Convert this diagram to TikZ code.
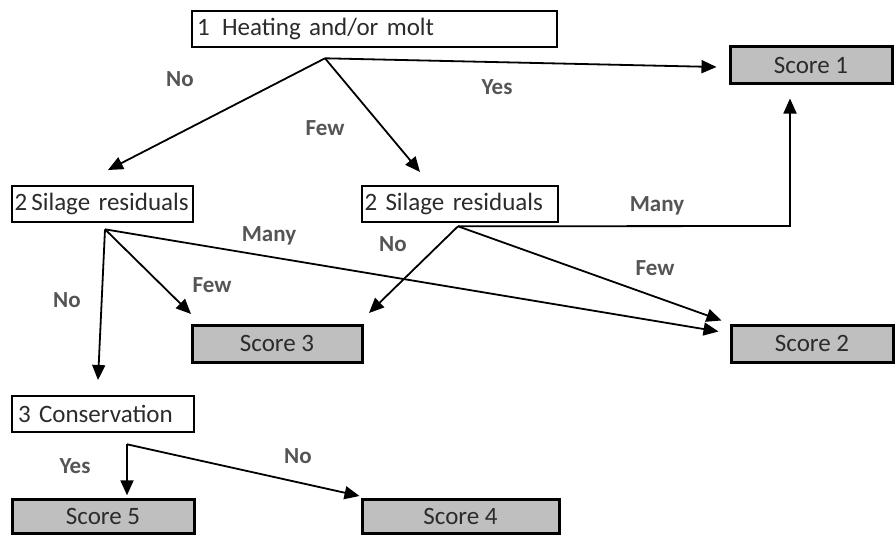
\documentclass[tikz,border=0pt]{standalone}
\usepackage{fontspec}
\setmainfont{Carlito}
\usetikzlibrary{arrows.meta,calc}
\definecolor{txt}{HTML}{2B2B2B}
\definecolor{lbl}{HTML}{555555}
\definecolor{scorefill}{HTML}{BFBFBF}
\begin{document}
\begin{tikzpicture}[x=1pt,y=-1pt,
  qbox/.style={draw=black,line width=2.6pt,fill=white,inner xsep=5pt,inner ysep=0pt,
    text=txt,font=\fontsize{25}{30}\selectfont,anchor=center},
  sbox/.style={draw=black,line width=3pt,fill=scorefill,inner sep=0pt,
    text=txt,font=\fontsize{25}{30}\selectfont,anchor=center},
  lab/.style={text=lbl,font=\bfseries\fontsize{23}{28}\selectfont,inner sep=0pt},
  conn/.style={line width=1.8pt,-{Triangle[length=15pt,width=13pt]}}]
\useasboundingbox (0,0) rectangle (896,535);
% question boxes
\node[qbox,minimum width=365pt,minimum height=36pt,text width=355pt,align=left] (h1) at (374.5,29) {1\, Heating and/or molt};
\node[qbox,minimum width=181pt,minimum height=36pt,text width=176pt,inner xsep=2.5pt,align=left] (r2a) at (102.5,204) {2\,Silage residuals};
\node[qbox,minimum width=196pt,minimum height=36pt,text width=191pt,inner xsep=2.5pt,align=left] (r2b) at (460,204) {2 Silage residuals};
\node[qbox,minimum width=182pt,minimum height=36pt,text width=170pt,inner xsep=6pt,align=left] (c3) at (103,414) {3 Conservation};
% score boxes
\node[sbox,minimum width=162pt,minimum height=36pt] (s1) at (811,65) {Score 1};
\node[sbox,minimum width=162pt,minimum height=37pt] (s2) at (812,343.5) {Score 2};
\node[sbox,minimum width=170pt,minimum height=37pt] (s3) at (277,343.5) {Score 3};
\node[sbox,minimum width=197pt,minimum height=34pt] (s4) at (460.5,516) {Score 4};
\node[sbox,minimum width=182pt,minimum height=34pt] (s5) at (103,516) {Score 5};
% branch points
\coordinate (b1) at ($(h1.south)+(-49.5,10)$);
\coordinate (b2a) at ($(r2a.south)+(2.5,6)$);
\coordinate (b2b) at ($(r2b.south)+(-2,3)$);
\coordinate (b3) at ($(c3.south)+(24,11)$);
% arrow tips
\coordinate (t1no) at (108,170);
\coordinate (t1few) at (420,172);
\coordinate (t1yes) at ($(s1.west)+(-12,2)$);
\coordinate (t2ano) at (98,380);
\coordinate (t2afew) at (191,314);
\coordinate (t2amany) at ($(s2.west)+(-11,-12)$);
\coordinate (t2bno) at (369,313);
\coordinate (t2bfew) at ($(s2.west)+(-8,-23)$);
\coordinate (t2bturn) at (790,226);
\coordinate (t2bmany) at ($(s1.south)+(-21,14)$);
\coordinate (t3yes) at ($(b3)+(0,51)$);
\coordinate (t3no) at ($(s4.west)+(-1,-20)$);
% connectors
\draw[conn] (b1) -- (t1no);
\draw[conn] (b1) -- (t1few);
\draw[conn] (b1) -- (t1yes);
\draw[conn] (b2a) -- (t2ano);
\draw[conn] (b2a) -- (t2afew);
\draw[conn] (b2a) -- (t2amany);
\draw[conn] (b2b) -- (t2bno);
\draw[conn] (b2b) -- (t2bfew);
\draw[conn] (b2b) -- (t2bturn) -- (t2bmany);
\draw[conn] (b3) -- (t3yes);
\draw[conn] (b3) -- (t3no);
% labels
\node[lab] (l1) at (180,79) {No};
\node[lab] (l2) at (325,128) {Few};
\node[lab] (l3) at (497,87) {Yes};
\node[lab] (l4) at (67,300) {No};
\node[lab] (l5) at (212,285) {Few};
\node[lab] (l6) at (269,236) {Many};
\node[lab] (l7) at (393,244) {No};
\node[lab] (l8) at (655,268) {Few};
\node[lab] (l9) at (657,206) {Many};
\node[lab] (l10) at (75,466) {Yes};
\node[lab] (l11) at (298,456) {No};
\end{tikzpicture}
\end{document}
